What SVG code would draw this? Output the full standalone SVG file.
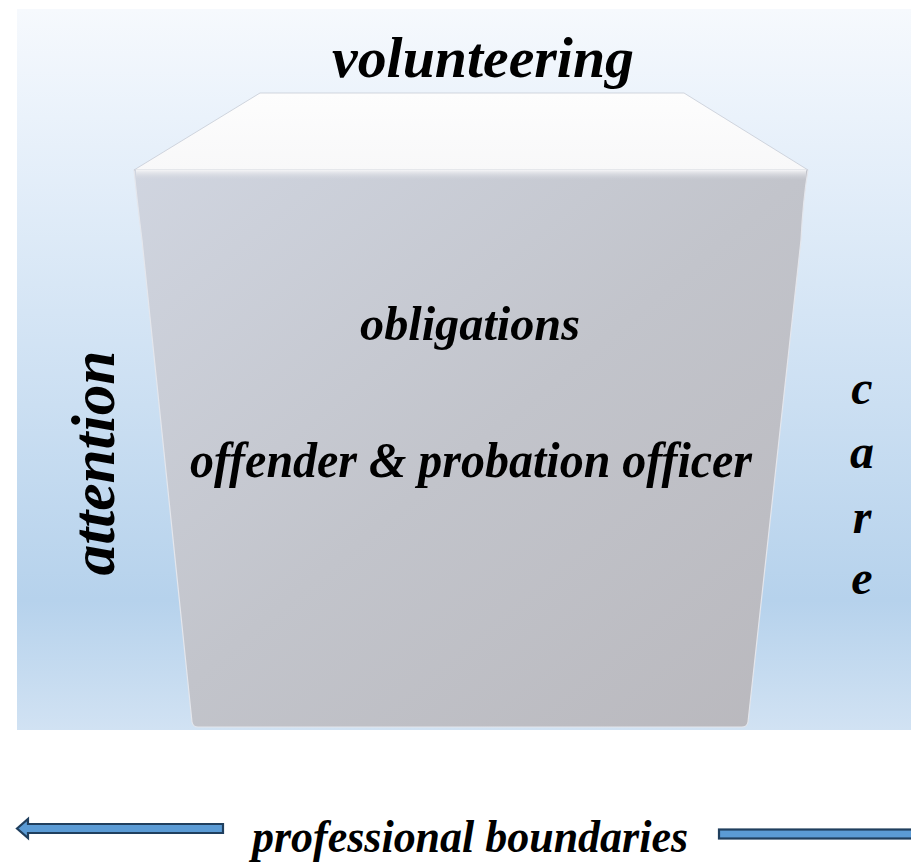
<svg xmlns="http://www.w3.org/2000/svg" width="911" height="863" viewBox="0 0 911 863">
<defs>
<linearGradient id="bg" x1="0" y1="0" x2="0" y2="1">
<stop offset="0" stop-color="#f6f9fd"/>
<stop offset="0.15" stop-color="#eaf2fb"/>
<stop offset="0.82" stop-color="#b6d2ec"/>
<stop offset="1" stop-color="#d1e2f3"/>
</linearGradient>
<linearGradient id="front" x1="0" y1="0" x2="1" y2="1">
<stop offset="0" stop-color="#d0d5e0"/>
<stop offset="0.5" stop-color="#c2c4cb"/>
<stop offset="1" stop-color="#b9b8bd"/>
</linearGradient>
<linearGradient id="top" x1="0" y1="0" x2="0" y2="1">
<stop offset="0" stop-color="#fdfdfd"/>
<stop offset="1" stop-color="#f8f8f9"/>
</linearGradient>
<linearGradient id="lip" x1="0" y1="0" x2="0" y2="1">
<stop offset="0" stop-color="#f4f4f6"/>
<stop offset="1" stop-color="#d2d5dd" stop-opacity="0"/>
</linearGradient>
<style>
.t{font-family:"Liberation Serif","Times New Roman",serif;font-style:italic;font-weight:bold;fill:#000;}
.arrow{fill:#5b9bd5;stroke:#203f5e;stroke-width:2.2;}
</style>
</defs>
<rect id="background" x="17" y="9" width="894" height="721" fill="url(#bg)"/>
<g id="cube">
<path d="M134,170 L808,170 Q803,200 801,240 L748,722 Q747,727 742,727 L198,727 Q193,727 192,722 L142,240 Q137,200 134,170 Z" fill="url(#front)" stroke="#e4e6ec" stroke-width="1.2"/>
<polygon points="134,170 260,93 684,93 808,170" fill="url(#top)" stroke="#c7ccd6" stroke-width="0.8"/>
<rect x="136" y="170" width="670" height="10" fill="url(#lip)"/>
</g>
<g id="label-volunteering"><text class="t" x="483" y="77" font-size="58" text-anchor="middle" textLength="302" lengthAdjust="spacingAndGlyphs">volunteering</text></g>
<g id="label-obligations"><text class="t" x="470" y="340" font-size="48" text-anchor="middle" textLength="220" lengthAdjust="spacingAndGlyphs">obligations</text></g>
<g id="label-offender"><text class="t" x="471" y="477" font-size="50" text-anchor="middle" textLength="562" lengthAdjust="spacingAndGlyphs">offender &amp; probation officer</text></g>
<g id="label-attention"><text class="t" transform="translate(114,463) rotate(-90)" x="0" y="0" font-size="62" text-anchor="middle" textLength="225" lengthAdjust="spacingAndGlyphs">attention</text></g>
<g id="label-care">
<text class="t" x="862" y="404" font-size="48" text-anchor="middle">c</text>
<text class="t" x="862" y="468" font-size="48" text-anchor="middle">a</text>
<text class="t" x="862" y="533" font-size="48" text-anchor="middle">r</text>
<text class="t" x="862" y="594" font-size="48" text-anchor="middle">e</text>
</g>
<g id="label-professional"><text class="t" x="470" y="852" font-size="46" text-anchor="middle" textLength="436" lengthAdjust="spacingAndGlyphs">professional boundaries</text></g>
<g id="connectors">
<polygon class="arrow" points="17,828.5 28,819 28,824 223,824 223,833 28,833 28,838"/>
<rect class="arrow" x="719" y="829.5" width="195" height="9"/>
</g>
</svg>
